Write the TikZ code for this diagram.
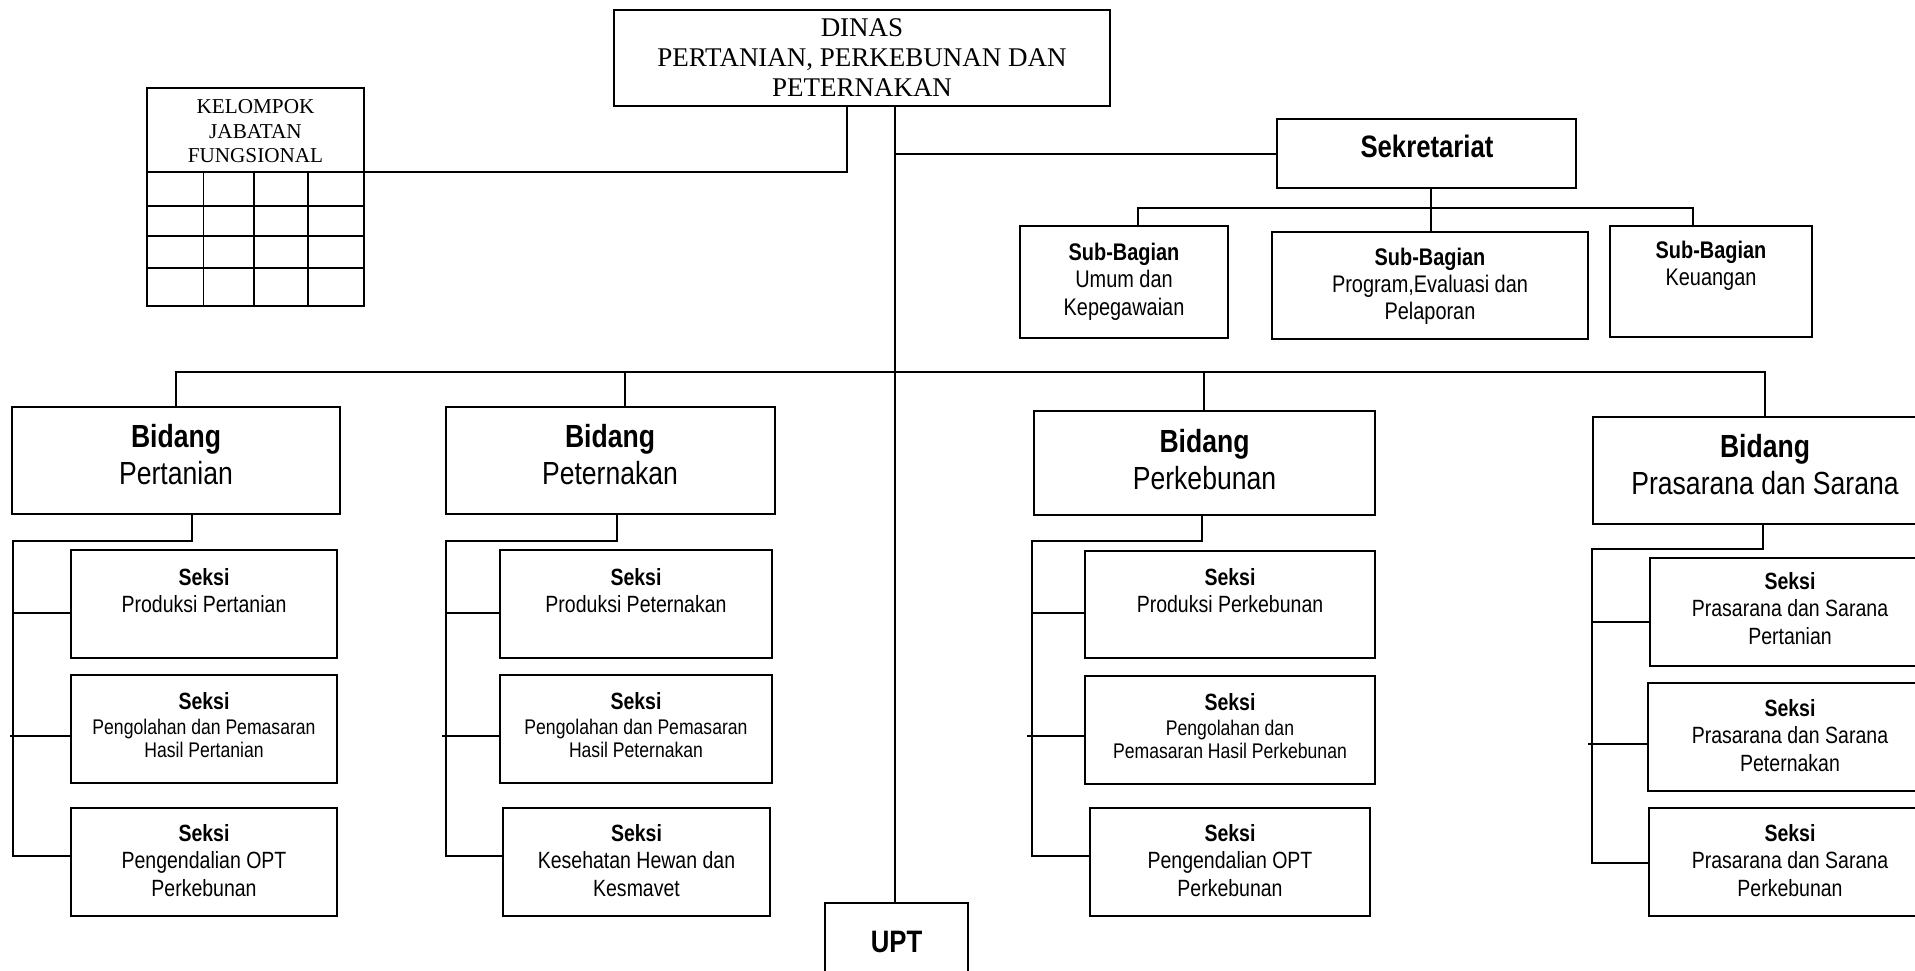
\documentclass[tikz,border=0pt]{standalone}
\usepackage{fontspec}
\newfontfamily\nsans[FakeStretch=0.83]{Liberation Sans}
\newfontfamily\tserif{Liberation Serif}

% font switches (1 unit = 1pt)
\newcommand\fBid{\nsans\fontsize{32}{37}\selectfont}
\newcommand\fSek{\nsans\fontsize{23.5}{27.5}\selectfont}
\newcommand\fSml{\nsans\fontsize{21.2}{23.5}\selectfont}
\newcommand\fSub{\nsans\fontsize{24}{27.5}\selectfont}
\newcommand\fBig{\nsans\bfseries\fontsize{31}{36}\selectfont}
\newcommand\fDin{\tserif\fontsize{27}{29.7}\selectfont}
\newcommand\fKel{\tserif\fontsize{21.2}{24.5}\selectfont}

\tikzset{
  box/.style={draw, line width=1.8pt, rectangle, inner sep=0pt, outer sep=0pt, anchor=north west},
  wire/.style={line width=1.5pt},
  grid/.style={line width=1.6pt},
  lbl/.style={anchor=base, inner sep=0pt, outer sep=0pt},
}

% box: name, left, top, width, height
\newcommand\bx[5]{\node[box, minimum width=#4pt, minimum height=#5pt] (#1) at (#2,#3) {};}
% label: name, centre x, first baseline y, font, lines
\newcommand\lb[5]{\node[lbl] (#1) at (#2,#3) {#4\begin{tabular}[t]{@{}c@{}}#5\end{tabular}};}

\begin{document}
\begin{tikzpicture}[x=1pt,y=-1pt]
\fill[white] (0,0) rectangle (1915,971);
\path[use as bounding box, clip] (0,0) rectangle (1915,971);

% ---------- top level ----------
\bx{din}{614}{10}{496}{96}
\lb{tdin}{862}{37}{\fDin}{DINAS\\PERTANIAN, PERKEBUNAN DAN\\PETERNAKAN}

% functional group with its grid
\bx{kjf}{147}{88}{217}{218}
\lb{tkjf}{255.5}{114}{\fKel}{KELOMPOK\\JABATAN\\FUNGSIONAL}
\draw[grid] (kjf.west |- 0,172) -- (kjf.east |- 0,172);
\foreach \r in {206,236,268} \draw[grid] (kjf.west |- 0,\r) -- (kjf.east |- 0,\r);
\foreach \c in {203.5,254,308} \draw[grid] (\c,172) -- (\c,0 |- kjf.south);
\draw[wire] (847,0 |- din.south) |- (kjf.east |- 0,172);

% secretariat
\bx{sek}{1277}{119}{299}{69}
\lb{tsek}{1427}{158}{\fBig}{Sekretariat}
\bx{sbu}{1020}{226}{208}{112}
\bx{sbp}{1272}{232}{316}{107}
\bx{sbk}{1610}{226}{202}{111}
\lb{tsbu}{1124}{260}{\fSub}{\textbf{Sub-Bagian}\\Umum dan\\Kepegawaian}
\lb{tsbp}{1430}{265}{\fSub}{\textbf{Sub-Bagian}\\Program,Evaluasi dan\\Pelaporan}
\lb{tsbk}{1711}{258}{\fSub}{\textbf{Sub-Bagian}\\Keuangan}

% UPT
\bx{upt}{825}{903}{143}{120}
\lb{tupt}{896.5}{952}{\fBig}{UPT}

% main trunk
\coordinate (trunkT) at (895,106);
\draw[wire] (895,0 |- din.south) -- (895,0 |- upt.north);
\draw[wire] (895,154) -- (sek.west |- 0,154);
\draw[wire] (1431,0 |- sek.south) -- (1431,0 |- sbp.north);
\draw[wire] (1138,0 |- sbu.north) -- (1138,208) -- (1693,208) -- (1693,0 |- sbk.north);

% ---------- bidang ----------
\bx{bp1}{12}{407}{328}{107}
\bx{bp2}{446}{407}{329}{107}
\bx{bp3}{1034}{411}{341}{104}
\bx{bp4}{1593}{417}{344}{107}
\lb{tbp1}{176}{447}{\fBid}{\textbf{Bidang}\\Pertanian}
\lb{tbp2}{610}{447}{\fBid}{\textbf{Bidang}\\Peternakan}
\lb{tbp3}{1204.5}{452}{\fBid}{\textbf{Bidang}\\Perkebunan}
\lb{tbp4}{1765}{457}{\fBid}{\textbf{Bidang}\\Prasarana dan Sarana}

\draw[wire] (176,0 |- bp1.north) -- (176,372) -- (1765,372) -- (1765,0 |- bp4.north);
\draw[wire] (625,372) -- (625,0 |- bp2.north);
\draw[wire] (1204,372) -- (1204,0 |- bp3.north);

% ---------- seksi: Pertanian ----------
\bx{s11}{71}{550}{266}{108}
\bx{s12}{71}{675}{266}{108}
\bx{s13}{71}{808}{266}{108}
\lb{ts11}{204}{585}{\fSek}{\textbf{Seksi}\\Produksi Pertanian}
\lb{hs12}{204}{709}{\fSek}{\textbf{Seksi}}
\lb{ts12}{204}{734}{\fSml}{Pengolahan dan Pemasaran\\Hasil Pertanian}
\lb{ts13}{204}{841}{\fSek}{\textbf{Seksi}\\Pengendalian OPT\\Perkebunan}
\draw[wire] (192,0 |- bp1.south) -- (192,541) -- (13,541) -- (13,856) -- (s13.west |- 0,856);
\draw[wire] (13,613) -- (s11.west |- 0,613);
\draw[wire] (10,736) -- (s12.west |- 0,736);

% ---------- seksi: Peternakan ----------
\bx{s21}{500}{550}{272}{108}
\bx{s22}{500}{675}{272}{108}
\bx{s23}{503}{808}{267}{108}
\lb{ts21}{636}{585}{\fSek}{\textbf{Seksi}\\Produksi Peternakan}
\lb{hs22}{636}{709}{\fSek}{\textbf{Seksi}}
\lb{ts22}{636}{734}{\fSml}{Pengolahan dan Pemasaran\\Hasil Peternakan}
\lb{ts23}{636.5}{841}{\fSek}{\textbf{Seksi}\\Kesehatan Hewan dan\\Kesmavet}
\draw[wire] (617,0 |- bp2.south) -- (617,541) -- (446,541) -- (446,856) -- (s23.west |- 0,856);
\draw[wire] (446,613) -- (s21.west |- 0,613);
\draw[wire] (442,736) -- (s22.west |- 0,736);

% ---------- seksi: Perkebunan ----------
\bx{s31}{1085}{551}{290}{107}
\bx{s32}{1085}{676}{290}{108}
\bx{s33}{1090}{808}{280}{108}
\lb{ts31}{1230}{585}{\fSek}{\textbf{Seksi}\\Produksi Perkebunan}
\lb{hs32}{1230}{710}{\fSek}{\textbf{Seksi}}
\lb{ts32}{1230}{735}{\fSml}{Pengolahan dan\\Pemasaran Hasil Perkebunan}
\lb{ts33}{1230}{841}{\fSek}{\textbf{Seksi}\\Pengendalian OPT\\Perkebunan}
\draw[wire] (1202,0 |- bp3.south) -- (1202,541) -- (1032,541) -- (1032,856) -- (s33.west |- 0,856);
\draw[wire] (1032,613) -- (s31.west |- 0,613);
\draw[wire] (1027,736) -- (s32.west |- 0,736);

% ---------- seksi: Prasarana dan Sarana ----------
\bx{s41}{1650}{558}{280}{108}
\bx{s42}{1648}{683}{282}{108}
\bx{s43}{1649}{808}{281}{108}
\lb{ts41}{1790}{589}{\fSek}{\textbf{Seksi}\\Prasarana dan Sarana\\Pertanian}
\lb{ts42}{1790}{716}{\fSek}{\textbf{Seksi}\\Prasarana dan Sarana\\Peternakan}
\lb{ts43}{1790}{841}{\fSek}{\textbf{Seksi}\\Prasarana dan Sarana\\Perkebunan}
\draw[wire] (1763,0 |- bp4.south) -- (1763,549) -- (1592,549) -- (1592,863) -- (s43.west |- 0,863);
\draw[wire] (1592,622) -- (s41.west |- 0,622);
\draw[wire] (1588,744) -- (s42.west |- 0,744);
\end{tikzpicture}
\end{document}
